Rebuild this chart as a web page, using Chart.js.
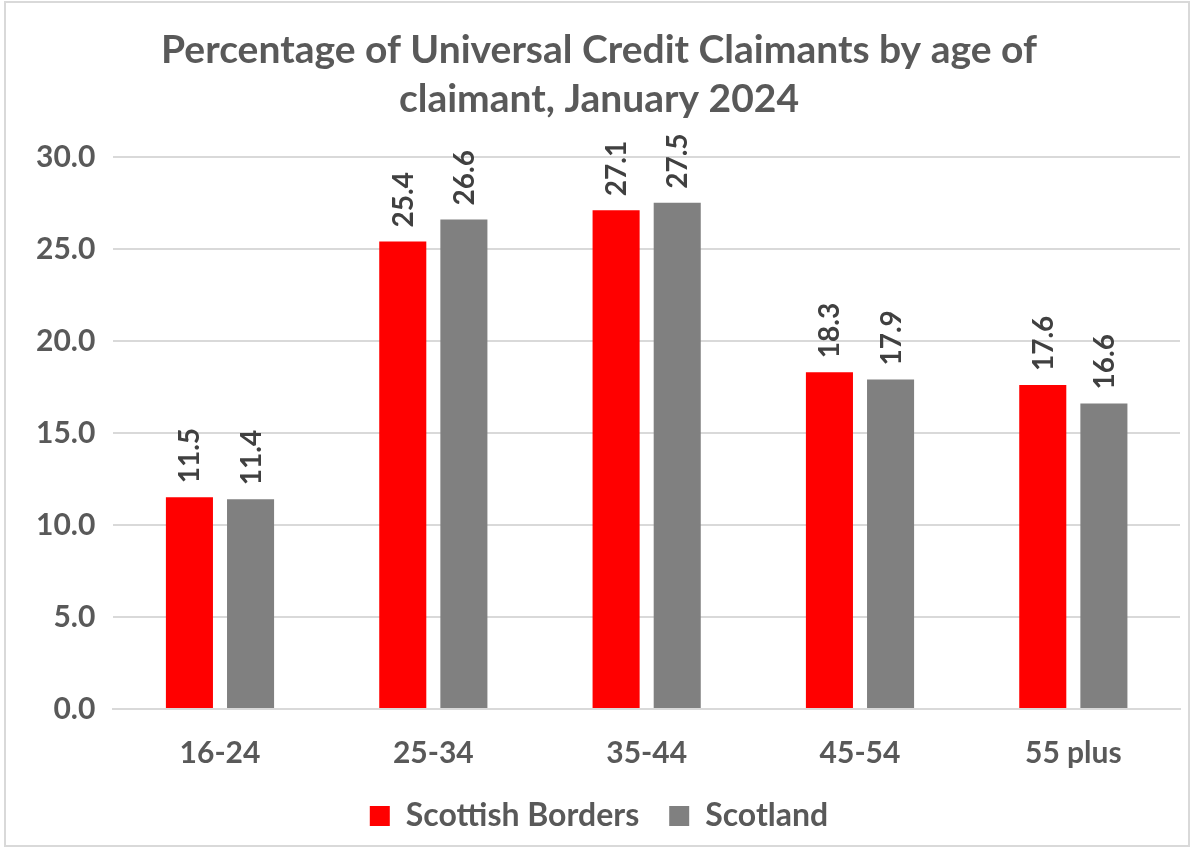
<!DOCTYPE html>
<html>
<head>
<meta charset="utf-8">
<script src="https://cdn.jsdelivr.net/npm/chart.js@4.4.1/dist/chart.umd.min.js"></script>
<style>
  html, body { margin:0; padding:0; background:#fff; }
  #wrap { position:absolute; left:4px; top:1px; width:1186px; height:846px; border:2px solid #d9d9d9; box-sizing:border-box; }
</style>
</head>
<body>
<div id="wrap"><canvas id="grafico"></canvas></div>
<script>
const categorias = ["16-24", "25-34", "35-44", "45-54", "55 plus"];
const borders = [11.5, 25.4, 27.1, 18.3, 17.6];
const scotland = [11.4, 26.6, 27.5, 17.9, 16.6];
const tituloLinhas = ["Percentage of Universal Credit Claimants by age of", "claimant, January 2024"];

const cinzaTexto = "#595959";
const fonte = "Lato";

// rótulos rotacionados em cima das barras
const rotulos = {
  id: "rotulos",
  afterDatasetsDraw(chart){
    const ctx = chart.ctx;
    ctx.save();
    ctx.font = "bold 28px " + fonte;
    ctx.fillStyle = "#404040";
    ctx.textAlign = "left";
    ctx.textBaseline = "middle";
    chart.data.datasets.forEach((ds, i) => {
      chart.getDatasetMeta(i).data.forEach((bar, j) => {
        ctx.save();
        ctx.translate(bar.x, bar.y - 14);
        ctx.rotate(-Math.PI/2);
        ctx.fillText(ds.data[j].toFixed(1), 0, 1);
        ctx.restore();
      });
    });
    ctx.restore();
  }
};

const ctx = document.getElementById("grafico").getContext("2d");
new Chart(ctx, {
  type: "bar",
  data: {
    labels: categorias,
    datasets: [
      { label: "Scottish Borders", data: borders, backgroundColor: "#ff0000" },
      { label: "Scotland", data: scotland, backgroundColor: "#808080" }
    ]
  },
  options: {
    responsive: true,
    maintainAspectRatio: false,
    animation: false,
    categoryPercentage: 0.573,
    barPercentage: 0.77,
    layout: { padding: { left: 12, right: 8, top: 22, bottom: 3 } },
    plugins: {
      title: {
        display: true,
        text: tituloLinhas,
        color: cinzaTexto,
        font: { family: fonte, size: 39, weight: "bold", lineHeight: 1.28 },
        padding: { top: 0, bottom: 32 }
      },
      legend: {
        position: "bottom",
        labels: {
          color: cinzaTexto,
          font: { family: fonte, size: 32, weight: "bold" },
          boxWidth: 20, boxHeight: 20, padding: 30
        }
      },
      tooltip: { enabled: false }
    },
    scales: {
      x: {
        grid: { display: false, drawTicks: false },
        border: { color: "#d9d9d9", width: 2 },
        ticks: { color: cinzaTexto, font: { family: fonte, size: 30, weight: "bold" }, padding: 26 },
        afterFit: s => { s.height -= 27; }
      },
      y: {
        min: 0, max: 30,
        grid: { color: "#d9d9d9", lineWidth: 2, drawTicks: false },
        border: { display: false },
        ticks: {
          stepSize: 5,
          color: cinzaTexto,
          font: { family: fonte, size: 30, weight: "bold" },
          padding: 18,
          callback: v => v.toFixed(1)
        }
      }
    }
  },
  plugins: [rotulos]
});
</script>
</body>
</html>
